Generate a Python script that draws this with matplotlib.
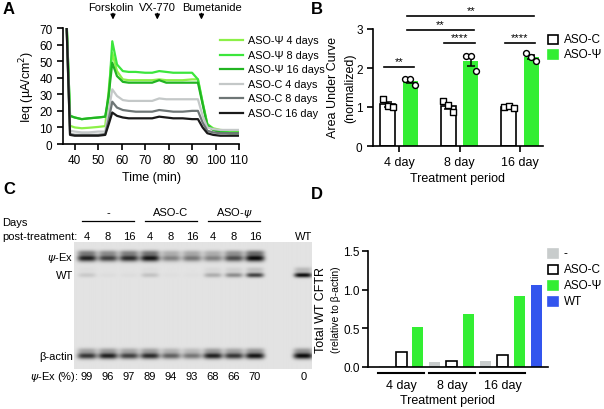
import numpy as np
import matplotlib
matplotlib.use("Agg")
import matplotlib.pyplot as plt
from matplotlib.lines import Line2D
from matplotlib.patches import Rectangle

plt.rcParams['font.family'] = ['Liberation Sans', 'DejaVu Sans']
plt.rcParams['mathtext.fontset'] = 'dejavusans'
plt.rcParams['axes.linewidth'] = 1.2
plt.rcParams['xtick.major.width'] = 1.2
plt.rcParams['ytick.major.width'] = 1.2
plt.rcParams['xtick.major.size'] = 4
plt.rcParams['ytick.major.size'] = 4
plt.rcParams['xtick.labelsize'] = 8.5
plt.rcParams['ytick.labelsize'] = 8.5

# ---- panel A data: Ieq traces
time_min = [36, 38, 40, 43, 46, 50, 53, 54.5, 56, 58, 60.5, 63, 66, 70, 73, 76, 79,
            82, 86, 90, 92.5, 94.5, 96.5, 99, 102, 106, 110]
trace_labels = ["ASO-Ψ 4 days", "ASO-Ψ 8 days", "ASO-Ψ 16 days",
                "ASO-C 4 days", "ASO-C 8 days", "ASO-C 16 day"]
psi_4 = [95, 11, 10, 9.5, 9.8, 10.3, 10.8, 33, 55, 44, 39, 38.5, 38.5, 38.5, 38.5, 39,
         38.5, 38.5, 38.5, 39, 39, 25, 12, 9.5, 8.5, 8, 7.5]
psi_8 = [95, 17, 16, 15, 15.5, 16, 16.5, 28, 62, 48, 44, 43.5, 43.5, 43, 43, 44, 43.5,
         43, 43, 43, 39, 25, 12, 9, 8, 7, 7]
psi_16 = [95, 17, 16, 15, 15.5, 16, 16.5, 30, 49, 41, 37.5, 37, 37, 37, 37, 38.5, 37,
          37, 37, 37, 37, 24, 11, 8.5, 7, 6.5, 6.5]
ctl_4 = [95, 8, 7.5, 7, 7, 7.5, 7.5, 20, 33, 29, 26.5, 26, 26, 26, 26, 27.5, 27, 27,
         27, 27, 27, 17, 10, 9, 8.5, 8.5, 8.5]
ctl_8 = [95, 6, 5.5, 5.5, 5.5, 5.5, 6, 15, 25.5, 22, 20.5, 20, 19.5, 19.5, 19.5, 20.5,
         20, 19.5, 19.5, 20, 20, 13, 8, 7, 6.5, 6.5, 6.5]
ctl_16 = [95, 5.5, 5, 5, 5, 5, 5.5, 12, 19, 17, 16, 15.5, 15.5, 15.5, 15.5, 16.5, 16,
          15.5, 15.5, 15, 15, 10, 6.5, 5.5, 5, 5, 5]
traces = [psi_4, psi_8, psi_16, ctl_4, ctl_8, ctl_16]
trace_colors = ["#8cf048", "#3ce63c", "#22b422", "#c4c8c8", "#6e7676", "#1a1a1a"]
drugs = ["Forskolin", "VX-770", "Bumetanide"]
drug_times = [56.3, 75.2, 94]

# ---- panel B data: AUC (normalized)
periods = ["4 day", "8 day", "16 day"]
auc_ctl = [[1.20, 1.02, 1.00], [1.16, 1.05, 0.88], [1.00, 1.02, 0.98]]
auc_psi = [[1.72, 1.72, 1.56], [2.30, 2.30, 1.93], [2.38, 2.27, 2.19]]
# (bar a, bar b, height, label); bars indexed: group*2 + (0 ctl / 1 psi)
sig = [(0, 1, 2.02, "**"), (2, 3, 2.64, "****"), (4, 5, 2.64, "****"),
       (1, 3, 2.98, "**"), (1, 5, 3.34, "**")]

# ---- panel C data: gel
lane_groups = ["-", "ASO-C", "ASO-ψ"]
lane_days = ["4", "8", "16", "4", "8", "16", "4", "8", "16", "WT"]
band_psi = [0.9, 0.75, 0.85, 0.95, 0.45, 0.5, 0.45, 0.7, 1.0, 0.0]
band_wt = [0.12, 0.03, 0.03, 0.15, 0.02, 0.02, 0.25, 0.4, 0.75, 1.0]
band_actin = [0.8, 0.9, 0.75, 0.85, 0.6, 0.5, 0.9, 0.8, 0.95, 1.0]
psi_ex_pct = ["99", "96", "97", "89", "94", "93", "68", "66", "70", "0"]

# ---- panel D data: total WT CFTR
d_labels = ["-", "ASO-C", "ASO-Ψ", "WT"]
wt_none = [0.01, 0.07, 0.08]
wt_ctl = [0.20, 0.08, 0.15]
wt_psi = [0.52, 0.68, 0.92]
wt_wt = 1.06

GREEN = "#33ee33"
GREY = "#c8cccc"
BLUE = "#3355ee"

W, H = 604, 410
fig = plt.figure(figsize=(W / 100, H / 100), dpi=100)


def px_axes(l, t, r, b):
    return fig.add_axes([l / W, 1 - b / H, (r - l) / W, (b - t) / H])


def ftext(x, y, s, **kw):
    fig.text(x / W, 1 - y / H, s, **kw)


def clean(ax):
    ax.spines['top'].set_visible(False)
    ax.spines['right'].set_visible(False)


# panel letters
for lab, x, y in [("A", 3, 9), ("B", 311, 9), ("C", 3, 190), ("D", 311, 195)]:
    ftext(x, y, lab, fontsize=12, fontweight='bold', va='center')

# ================= A
axa = px_axes(63, 29, 239, 145)
clean(axa)
for tr, c in zip(traces, trace_colors):
    axa.plot(time_min, tr, color=c, lw=1.6)
axa.set_xlim(35, 110)
axa.set_ylim(0, 70)
axa.set_xticks(range(40, 111, 10))
axa.set_yticks(range(0, 71, 10))
axa.set_xlabel("Time (min)", fontsize=9, labelpad=3)
axa.set_ylabel("Ieq (µA/cm$^2$)", fontsize=9, labelpad=2)
for name, t, dx in zip(drugs, drug_times, [-1, 0, 4.5]):
    axa.annotate("", xy=(t, 73.4), xytext=(t, 80.5),
                 arrowprops=dict(arrowstyle='-|>', color='black', lw=1, mutation_scale=7),
                 annotation_clip=False)
    axa.text(t + dx, 82.5, name, ha='center', va='center', fontsize=8, clip_on=False)
for i, (lab, c) in enumerate(zip(trace_labels, trace_colors)):
    y = 41 + i * 14.6
    fig.add_artist(Line2D([220 / W, 243 / W], [1 - y / H, 1 - y / H], color=c, lw=1.6))
    ftext(248, y, lab, fontsize=7.8, va='center')

# ================= B
axb = px_axes(373, 30, 543, 147)
clean(axb)
gx = np.arange(len(periods))
off = 0.185
bw = 0.25
jit = [-0.08, 0.0, 0.08]
m_ctl = [np.mean(p) for p in auc_ctl]
m_psi = [np.mean(p) for p in auc_psi]
s_ctl = [np.std(p, ddof=1) / np.sqrt(len(p)) for p in auc_ctl]
s_psi = [np.std(p, ddof=1) / np.sqrt(len(p)) for p in auc_psi]
axb.bar(gx - off, m_ctl, bw, color='white', edgecolor='black', lw=1.2, zorder=2)
axb.bar(gx + off, m_psi, bw, color=GREEN, edgecolor=GREEN, lw=0, zorder=2)
axb.errorbar(gx - off, m_ctl, yerr=s_ctl, fmt='none', ecolor='black', elinewidth=1.1,
             capsize=3, capthick=1.1, zorder=3)
axb.errorbar(gx + off, m_psi, yerr=s_psi, fmt='none', ecolor='black', elinewidth=1.1,
             capsize=3, capthick=1.1, zorder=3)
for g in range(len(periods)):
    axb.scatter(g - off + np.array(jit), auc_ctl[g], marker='s', s=18, facecolor='white',
                edgecolor='black', lw=1, zorder=4, clip_on=False)
    axb.scatter(g + off + np.array(jit), auc_psi[g], marker='o', s=18, facecolor='white',
                edgecolor='black', lw=1, zorder=4, clip_on=False)
axb.set_xlim(-0.43, 2.38)
axb.set_ylim(0, 3)
axb.set_yticks([0, 1, 2, 3])
axb.set_xticks(gx)
axb.set_xticklabels(periods, fontsize=9)
axb.tick_params(axis='x', pad=3)
axb.set_xlabel("Treatment period", fontsize=9, labelpad=3)
ftext(333, 88, "Area Under Curve", fontsize=9, rotation=90, ha='center', va='center')
ftext(350, 88, "(normalized)", fontsize=9, rotation=90, ha='center', va='center')
bar_x = []
for g in range(len(periods)):
    bar_x += [g - off, g + off]
for a, b, y, lab in sig:
    x1, x2 = bar_x[a], bar_x[b]
    if a % 2 == 1 and b % 2 == 1:
        x1 -= 0.05
        x2 += 0.05
    else:
        x1 -= 0.07
        x2 += 0.07
    axb.plot([x1, x2], [y, y], color='black', lw=1.2, clip_on=False)
    axb.text((x1 + x2) / 2, y + 0.02, lab, ha='center', va='bottom', fontsize=8,
             clip_on=False)
for i, (lab, fc, ec) in enumerate([("ASO-C", 'white', 'black'), ("ASO-Ψ", GREEN, GREEN)]):
    y = 40 + i * 15
    fig.add_artist(Rectangle((548 / W, 1 - (y + 4.5) / H), 10 / W, 9 / H, facecolor=fc,
                             edgecolor=ec, lw=1.2))
    ftext(564, y, lab, fontsize=8.5, va='center')

# ================= C
axc = px_axes(0, 205, 312, 410)
axc.axis('off')
lane_px0, lane_dx = 87, 21
axc.set_xlim((0 - lane_px0) / lane_dx, (312 - lane_px0) / lane_dx)
axc.set_ylim(410, 205)
lanes = list(range(9)) + [10.3]
gx0, gx1 = (74 - lane_px0) / lane_dx, (312 - lane_px0) / lane_dx
xs = np.linspace(gx0, gx1, 600)
ys = np.linspace(243, 370, 254)
X, Y = np.meshgrid(xs, ys)
img = np.full(X.shape, 0.89)
# (centre row, thickness, intensities, half width, upper smear weight)
rows = [(259, 3.4, band_psi, 0.46, 0.45), (276, 2.4, band_wt, 0.42, 0.2),
        (357, 3.2, band_actin, 0.46, 0.3)]
for yc, th, vals, hw, sm in rows:
    for lx, v in zip(lanes, vals):
        prof_x = np.exp(-np.abs((X - lx) / hw) ** 4)
        prof_y = np.exp(-((Y - yc) / th) ** 2) + sm * np.exp(-((Y - yc + 5.5) / 2.6) ** 2)
        img -= 0.85 * v * prof_x * prof_y
img = np.clip(img, 0.04, 1)
axc.imshow(img, cmap='gray', vmin=0, vmax=1, extent=(gx0, gx1, 370, 243), aspect='auto',
           interpolation='bilinear')
axc.text(-4.05, 223, "Days", fontsize=8, va='center')
axc.text(-4.05, 237, "post-treatment:", fontsize=8, va='center')
for lx, lab in zip(lanes, lane_days):
    axc.text(lx, 237, lab, fontsize=8, ha='center', va='center')
for k, lab in enumerate(lane_groups):
    c = 3 * k + 1
    axc.plot([c - 1.25, c + 1.25], [222, 222], color='black', lw=0.9)
    axc.text(c, 213, lab.replace("ψ", "$\\psi$"), fontsize=8, ha='center', va='center')
xr = (73 - lane_px0) / lane_dx
axc.text(xr, 258, "$\\psi$-Ex", fontsize=8, ha='right', va='center')
axc.text(xr, 276, "WT", fontsize=8, ha='right', va='center')
axc.text(xr, 357, "β-actin", fontsize=8, ha='right', va='center')
axc.text((78 - lane_px0) / lane_dx, 377, "$\\psi$-Ex (%):", fontsize=8, ha='right', va='center')
for lx, lab in zip(lanes, psi_ex_pct):
    axc.text(lx, 377, lab, fontsize=8, ha='center', va='center')

# ================= D
axd = px_axes(368, 252, 548, 368)
clean(axd)
d_bw = 0.65
pos_none = [0, 3, 6]
pos_ctl = [1, 4, 7]
pos_psi = [2, 5, 8]
axd.bar(pos_none, wt_none, d_bw, color=GREY, lw=0)
axd.bar(pos_ctl, wt_ctl, d_bw, color='white', edgecolor='black', lw=1.2)
axd.bar(pos_psi, wt_psi, d_bw, color=GREEN, lw=0)
axd.bar([9], [wt_wt], d_bw, color=BLUE, lw=0)
axd.set_xlim(-0.95, 9.68)
axd.set_ylim(0, 1.5)
axd.set_yticks([0, 0.5, 1.0, 1.5])
axd.set_yticklabels(["0.0", "0.5", "1.0", "1.5"])
axd.tick_params(axis='y', pad=2)
axd.set_xticks([])
ftext(321, 310, "Total WT CFTR", fontsize=9, rotation=90, ha='center', va='center')
ftext(336, 310, "(relative to β-actin)", fontsize=7.5, rotation=90, ha='center', va='center')
for g, lab in enumerate(periods):
    x1, x2 = pos_none[g] - 0.35, pos_psi[g] + 0.35
    axd.plot([x1, x2], [-0.08, -0.08], color='black', lw=1.5, clip_on=False)
    axd.text((x1 + x2) / 2, -0.15, lab, ha='center', va='top', fontsize=9)
ftext(448, 401, "Treatment period", ha='center', va='center', fontsize=9)
for i, (lab, fc, ec) in enumerate(zip(d_labels, [GREY, 'white', GREEN, BLUE],
                                      [GREY, 'black', GREEN, BLUE])):
    y = 254 + i * 16
    fig.add_artist(Rectangle((548 / W, 1 - (y + 4.5) / H), 10 / W, 9 / H, facecolor=fc,
                             edgecolor=ec, lw=1.2))
    ftext(564, y, lab, fontsize=8.5, va='center')

fig.savefig("out.png", dpi=100)
